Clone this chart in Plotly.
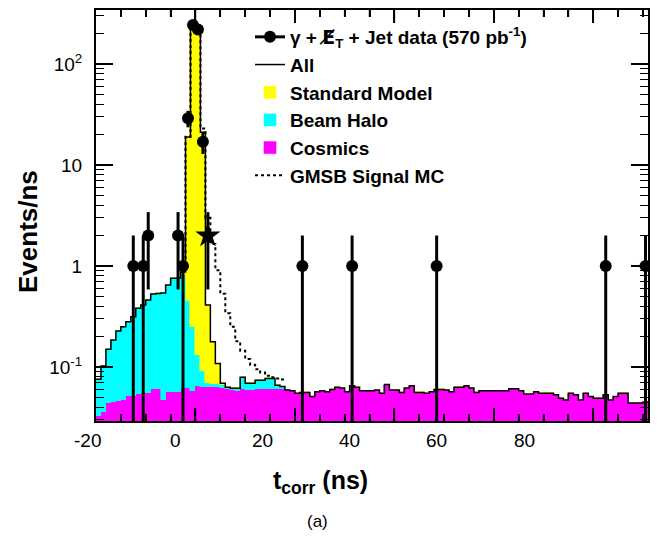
import numpy as np
import plotly.graph_objects as go

# ---------------- data ----------------
bin_edges = list(range(-20, 92))          # 1 ns bins, t_corr in ns

cosmics = [0.033, 0.036, 0.044, 0.0445, 0.046, 0.047, 0.052, 0.052, 0.054, 0.055,
           0.055, 0.060, 0.061, 0.047, 0.056, 0.056, 0.056, 0.062, 0.062, 0.058,
           0.065, 0.064, 0.064, 0.064, 0.064, 0.062, 0.060, 0.059, 0.058, 0.061,
           0.059, 0.059, 0.060, 0.060, 0.060, 0.061, 0.061, 0.061, 0.059, 0.058,
           0.055, 0.056, 0.056, 0.051, 0.057, 0.058, 0.057, 0.060, 0.063, 0.062,
           0.057, 0.065, 0.063, 0.058, 0.058, 0.058, 0.059, 0.055, 0.067, 0.059,
           0.059, 0.056, 0.062, 0.065, 0.056, 0.056, 0.055, 0.057, 0.060, 0.060,
           0.059, 0.057, 0.063, 0.063, 0.065, 0.062, 0.056, 0.058, 0.058, 0.058,
           0.058, 0.058, 0.058, 0.061, 0.061, 0.058, 0.054, 0.054, 0.057, 0.055,
           0.055, 0.055, 0.053, 0.049, 0.047, 0.055, 0.053, 0.047, 0.055, 0.051,
           0.049, 0.049, 0.053, 0.047, 0.051, 0.055, 0.055, 0.044, 0.044, 0.044,
           0.045]

beam_halo = [0.0425, 0.066, 0.106, 0.1405, 0.181, 0.203, 0.229, 0.263, 0.327, 0.356,
             0.406, 0.468, 0.474, 0.493, 0.594, 0.699, 0.699, 0.76, 0.388, 0.192,
             0.065, 0.028, 0.006, 0.004, 0.004, 0.004, 0.003, 0.0025, 0.0035, 0.018,
             0.010, 0.010, 0.014, 0.014, 0.017, 0.016, 0.005, 0.003, 0, 0,
             0, 0, 0, 0, 0, 0, 0, 0, 0, 0,
             0, 0, 0, 0, 0, 0, 0, 0, 0, 0,
             0, 0, 0, 0, 0, 0, 0, 0, 0, 0,
             0, 0, 0, 0, 0, 0, 0, 0, 0, 0,
             0, 0, 0, 0, 0, 0, 0, 0, 0, 0,
             0, 0, 0, 0, 0, 0, 0, 0, 0, 0,
             0, 0, 0, 0, 0, 0, 0, 0, 0, 0,
             0]

standard_model = [0, 0, 0, 0, 0, 0, 0, 0, 0, 0,
                  0, 0, 0, 0, 0, 0, 0, 0.05, 18.5, 242,
                  218, 21, 0.34, 0.11, 0.04, 0.003, 0, 0, 0, 0,
                  0, 0, 0, 0, 0, 0, 0, 0, 0, 0,
                  0, 0, 0, 0, 0, 0, 0, 0, 0, 0,
                  0, 0, 0, 0, 0, 0, 0, 0, 0, 0,
                  0, 0, 0, 0, 0, 0, 0, 0, 0, 0,
                  0, 0, 0, 0, 0, 0, 0, 0, 0, 0,
                  0, 0, 0, 0, 0, 0, 0, 0, 0, 0,
                  0, 0, 0, 0, 0, 0, 0, 0, 0, 0,
                  0, 0, 0, 0, 0, 0, 0, 0, 0, 0,
                  0]

gmsb_edges = list(range(-3, 19))
gmsb_signal = [0.87, 19, 243, 218, 23, 3.0, 1.65, 0.91, 0.53, 0.34, 0.25,
               0.18, 0.145, 0.12, 0.105, 0.095, 0.088, 0.082, 0.079, 0.077, 0.075]

data_t = [-12.5, -10.5, -9.5, -3.5, -2.5, -1.5, -0.5, 0.5, 1.5, 21.5, 31.5, 48.5, 82.5, 90.5]
data_n = [1, 1, 2, 2, 1, 29, 243, 220, 17, 1, 1, 1, 1, 1]

cand_t = [2.5]
cand_n = [2]

x_tick_vals = [-20, 0, 20, 40, 60, 80]
x_tick_text = ["-20", "0", "20", "40", "60", "80"]
x_minor_vals = [-15, -10, -5, 5, 10, 15, 25, 30, 35, 45, 50, 55, 65, 70, 75, 85, 90]
y_tick_vals = [0.1, 1, 10, 100]
y_tick_text = ["10<sup>-1</sup>", "1", "10", "10<sup>2</sup>"]

# ---------------- derived ----------------
centers = np.array(bin_edges[:-1]) + 0.5
total = np.array(cosmics) + np.array(beam_halo) + np.array(standard_model)

def errs(n):
    up = np.sqrt(np.array(n, dtype=float))
    dn = np.minimum(up, np.array(n, dtype=float) * 0.999)
    return up, dn

d_up, d_dn = errs(data_n)
c_up, c_dn = errs(cand_n)

FONT = "Liberation Sans, Arial, Helvetica, sans-serif"

fig = go.Figure()
fig.add_trace(go.Bar(x=centers, y=cosmics, width=1, name="Cosmics",
                     marker=dict(color="#FF00FF", line=dict(width=0.6, color="#FF00FF")),
                     legendrank=5))
fig.add_trace(go.Bar(x=centers, y=beam_halo, width=1, name="Beam Halo",
                     marker=dict(color="#00FFFF", line=dict(width=0.6, color="#00FFFF")),
                     legendrank=4))
fig.add_trace(go.Bar(x=centers, y=standard_model, width=1, name="Standard Model",
                     marker=dict(color="#FFFF00", line=dict(width=0.6, color="#FFFF00")),
                     legendrank=3))
fig.add_trace(go.Scatter(x=bin_edges, y=list(total) + [total[-1]], mode="lines",
                         line=dict(shape="hv", color="black", width=1.5),
                         name="All", legendrank=2))
fig.add_trace(go.Scatter(x=gmsb_edges, y=gmsb_signal + [gmsb_signal[-1]], mode="lines",
                         line=dict(shape="hv", color="black", width=2, dash="3px,3px"),
                         name="GMSB Signal MC", legendrank=6))
fig.add_trace(go.Scatter(x=data_t, y=data_n, mode="markers", showlegend=False,
                         marker=dict(size=12, color="black"),
                         error_y=dict(type="data", array=d_up, arrayminus=d_dn,
                                      thickness=3, width=0, color="black")))
fig.add_trace(go.Scatter(x=cand_t, y=cand_n, mode="markers", showlegend=False,
                         marker=dict(size=19, color="black", symbol="star"),
                         error_y=dict(type="data", array=c_up, arrayminus=c_dn,
                                      thickness=3, width=0, color="black")))
# legend entry for the data (carries no points)
fig.add_trace(go.Scatter(x=[None], y=[None], mode="lines+markers",
                         name="γ + <span style='font-family:DejaVu Sans'>E\u0338</span>"
                              "<sub>T</sub> + Jet data (570 pb<sup>-1</sup>)",
                         line=dict(color="black", width=3),
                         marker=dict(size=12, color="black"), legendrank=1))

W, H = 662, 537
L, R, T, B = 96, 14, 10, 116
pw = W - L - R
ph = H - T - B

def px_x(p):
    return (p - L) / pw

def px_y(p):
    return (H - B - p) / ph

minor_y = [m * 10.0 ** e for e in range(-2, 3) for m in range(2, 10)]
minor_y = [v for v in minor_y if 0.029 < v < 343]

# the printed tick numbers of the original sit on a slightly different scale
# (0 -> 175 px, 4.3625 px per ns) than its tick marks; reproduce that placement
label_ann = [dict(text=txt, xref="paper", yref="paper",
                  x=px_x(175 + 4.3625 * v), y=px_y(440),
                  showarrow=False, xanchor="center", yanchor="middle",
                  font=dict(size=19, family=FONT, color="black"))
             for v, txt in zip(x_tick_vals, x_tick_text)]

# inside tick marks of the time axis (bottom and mirrored on top), placed on the x scale
tick_shapes = []
for vals, length in ((x_tick_vals[1:], 13), (x_minor_vals, 7)):
    for v in vals:
        for y0, y1 in ((0, length / ph), (1, 1 - length / ph)):
            tick_shapes.append(dict(type="line", xref="x", yref="paper",
                                    x0=v, x1=v, y0=y0, y1=y1, layer="above",
                                    line=dict(color="black", width=1.5)))

fig.update_layout(
    width=W, height=H,
    margin=dict(l=L, r=R, t=T, b=B, autoexpand=False),
    paper_bgcolor="white", plot_bgcolor="white",
    barmode="stack", bargap=0,
    font=dict(family=FONT, color="black"),
    showlegend=True,
    legend=dict(x=px_x(250), y=px_y(18), xanchor="left", yanchor="top",
                bgcolor="rgba(0,0,0,0)", borderwidth=0, traceorder="normal",
                font=dict(size=19, family=FONT, color="black", weight="bold"),
                itemwidth=30),
    xaxis=dict(type="linear", range=[-20, 91],
               showline=True, linecolor="black", linewidth=2, mirror="ticks",
               tickmode="linear", tick0=0, dtick=20,
               ticks="inside", ticklen=13, tickwidth=1.5, tickcolor="black",
               showticklabels=False, showgrid=False, zeroline=False,
               minor=dict(ticks="inside", ticklen=7, tickwidth=1.5, tickcolor="black",
                          dtick=5, showgrid=False)),
    yaxis=dict(type="log", range=[-1.535, 2.535],
               showline=True, linecolor="black", linewidth=2, mirror="ticks",
               ticks="inside", ticklen=17, tickwidth=1.5, tickcolor="black",
               tickvals=y_tick_vals, ticktext=y_tick_text,
               tickfont=dict(size=19, family=FONT, color="black"),
               ticklabelstandoff=8, showgrid=False, zeroline=False,
               minor=dict(ticks="inside", ticklen=8, tickwidth=1.2, tickcolor="black",
                          tickvals=minor_y, showgrid=False)),
    shapes=tick_shapes,
    annotations=label_ann + [
        dict(text="Events/ns", xref="paper", yref="paper", x=px_x(28), y=px_y(232),
             textangle=-90, showarrow=False, xanchor="center", yanchor="middle",
             font=dict(size=26, family=FONT, color="black", weight="bold")),
        dict(text="t<sub>corr</sub> (ns)", xref="paper", yref="paper",
             x=px_x(320), y=px_y(482), showarrow=False, xanchor="center", yanchor="middle",
             font=dict(size=25, family=FONT, color="black", weight="bold")),
        dict(text="(a)", xref="paper", yref="paper", x=px_x(317), y=px_y(521),
             showarrow=False, xanchor="center", yanchor="middle",
             font=dict(size=17, family=FONT, color="black")),
    ],
)

fig.write_html("out.html", config={"displayModeBar": False},
               post_script="document.body.style.margin='0px';")
